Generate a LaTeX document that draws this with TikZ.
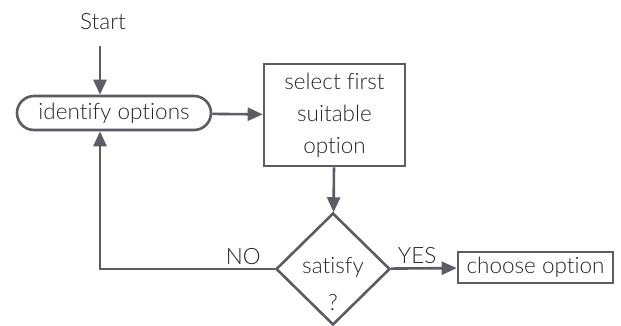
\documentclass[tikz,border=0pt]{standalone}
\usepackage{fontspec}
\setmainfont{Lato Light}[Ligatures=NoCommon]
\usepackage{tikz}
\usetikzlibrary{positioning,shapes.geometric,shapes.misc,arrows.meta}

\definecolor{linegray}{HTML}{5C5C64}
\definecolor{textgray}{HTML}{262626}

\tikzset{
  every node/.style={text=textgray, font=\fontsize{22.5}{32}\selectfont},
  flow/.style={draw=linegray, line width=2.6pt, -{Triangle[length=15pt,width=13pt]}},
  terminal/.style={rounded rectangle, draw=linegray, line width=2.6pt, minimum width=198pt, minimum height=34pt, inner sep=2pt},
  process/.style={rectangle, draw=linegray, line width=2.6pt, align=center, inner sep=2pt},
  decision/.style={diamond, draw=linegray, line width=2.6pt, minimum width=114pt, minimum height=112pt, inner sep=0pt}
}

\begin{document}
\begin{tikzpicture}[x=1pt,y=1pt]
  \useasboundingbox (0,0) rectangle (621,-325);

  \node (start) at (103,-22) {Start};
  \node[terminal] (ident) at (114,-113) {identify options};
  \node[process, minimum width=141pt, minimum height=102pt] (select) at (334.5,-115) {select first\\suitable\\option};
  \node[decision] (sat) at (333,-269) {};
  \node[align=center, anchor=north, font=\fontsize{22.5}{37}\selectfont] (satlabel) at (333,-254) {satisfy\\?};
  \node[process, minimum width=155pt, minimum height=31pt] (choose) at (535.5,-267.5) {choose option};
  \coordinate (corner) at (100,-269);
  \coordinate (entry) at (100,-46);

  \draw[flow] (entry) -- (ident.north -| corner);
  \draw[flow] (ident) -- (select);
  \draw[flow] (select) -- (sat);
  \draw[flow] (sat) -- node[above, pos=0.4] (yes) {YES} (choose);
  \draw[flow] (sat.west) -- node[above, pos=0.18] (no) {NO} (corner) -- (ident.south -| corner);
\end{tikzpicture}
\end{document}
